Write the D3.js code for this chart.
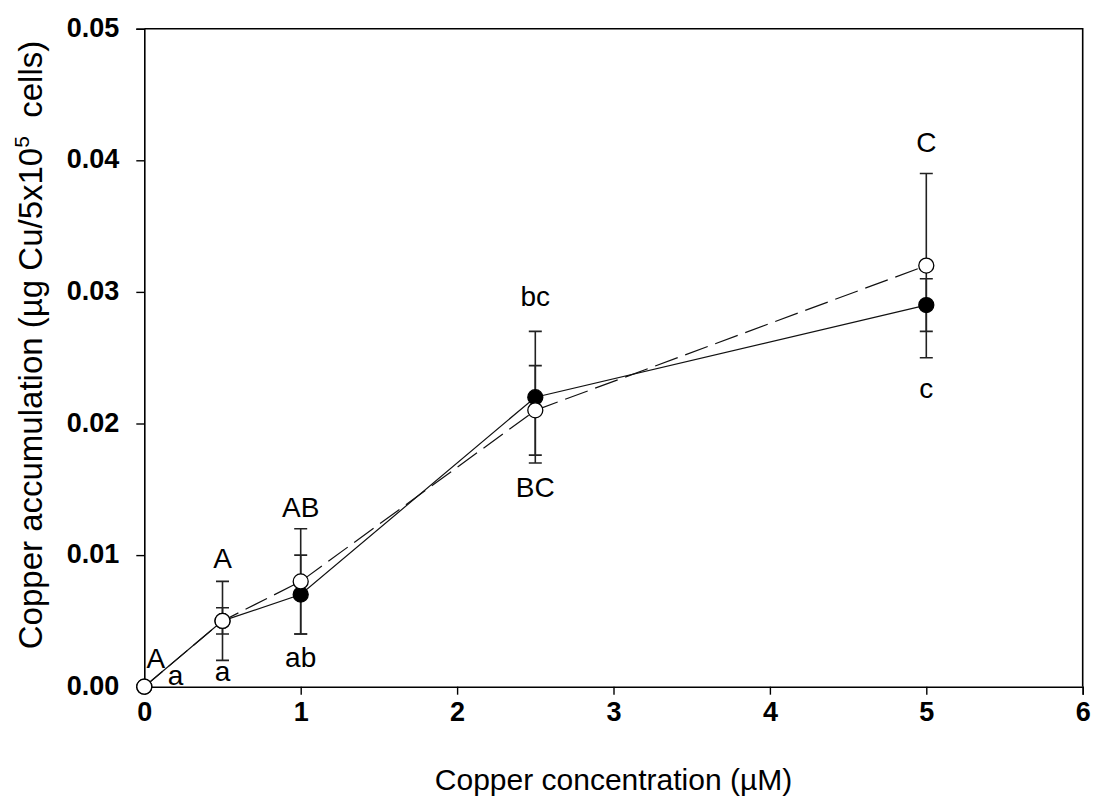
<!DOCTYPE html>
<html>
<head>
<meta charset="utf-8">
<script src="https://cdn.jsdelivr.net/npm/d3@7"></script>
<style>
  html, body { margin: 0; padding: 0; background: #fff; }
  svg { display: block; }
  text { font-family: Arial, "Liberation Sans", sans-serif; fill: #000; }
</style>
</head>
<body>
<svg id="chart" width="1100" height="807"></svg>
<script>
// Copper concentration in the medium (µM)
const concentrations = [0, 0.5, 1, 2.5, 5];

// Copper accumulation (µg Cu / 5x10^5 cells), two treatments
const filledMeans = [0, 0.005, 0.007, 0.022, 0.029];
const filledErrors = [0, 0.001, 0.003, 0.005, 0.002];
const openMeans = [0, 0.005, 0.008, 0.021, 0.032];
const openErrors = [0, 0.003, 0.004, 0.0034, 0.007];

// Significance letters, anchored in data space (concentration, accumulation)
const letterText = ["A", "a", "A", "a", "AB", "ab", "bc", "BC", "C", "c"];
const letterX = [0.074, 0.2, 0.5, 0.5, 1, 1, 2.5, 2.5, 5, 5];
const letterY = [0.0014, 0.0001, 0.0090, 0.0004, 0.0129, 0.0015, 0.0289, 0.0144, 0.0406, 0.0219];

const xTicks = [0, 1, 2, 3, 4, 5, 6];
const yTicks = [0, 0.01, 0.02, 0.03, 0.04, 0.05];

const svg = d3.select("#chart");
const margin = { left: 144.3, right: 1100 - 1082.7, top: 28.7, bottom: 807 - 686.7 };
const W = 1100, H = 807;

const x = d3.scaleLinear().domain([0, 6]).range([margin.left, W - margin.right]);
const y = d3.scaleLinear().domain([0, 0.05]).range([H - margin.bottom, margin.top]);

// frame (top and right borders)
svg.append("path")
  .attr("d", `M${x(0)},${y(0.05)}H${x(6)}V${y(0)}`)
  .attr("fill", "none").attr("stroke", "#000").attr("stroke-width", 1.6);

// axes
const xAxis = d3.axisBottom(x).tickValues(xTicks).tickFormat(d3.format("d")).tickSize(8).tickPadding(7);
const yAxis = d3.axisLeft(y).tickValues(yTicks).tickFormat(d3.format(".2f")).tickSize(8).tickPadding(17);

const gx = svg.append("g").attr("transform", `translate(0,${y(0)})`).call(xAxis);
const gy = svg.append("g").attr("transform", `translate(${x(0)},0)`).call(yAxis);
[gx, gy].forEach(g => {
  g.select(".domain").attr("stroke", "#000").attr("stroke-width", 1.6);
  g.selectAll(".tick line").attr("stroke", "#000").attr("stroke-width", 1.4);
  g.selectAll(".tick text")
    .attr("font-family", "Arial, 'Liberation Sans', sans-serif")
    .attr("font-size", 27).attr("font-weight", "bold").attr("fill", "#000");
});
gx.selectAll(".tick text").attr("dy", "0.71em");
gy.selectAll(".tick text").attr("dy", "0.28em");

// axis titles
svg.append("text")
  .attr("x", (x(0) + x(6)) / 2).attr("y", 790)
  .attr("text-anchor", "middle").attr("font-size", 30)
  .text("Copper concentration (\u00b5M)");

const yt = svg.append("text")
  .attr("transform", `translate(42,345) rotate(-90)`)
  .attr("text-anchor", "middle").attr("font-size", 33);
yt.append("tspan").text("Copper accumulation (\u00b5g Cu/5x10");
yt.append("tspan").attr("font-size", 21).attr("dy", -13).text("5");
yt.append("tspan").attr("dy", 13).text("\u00a0 cells)");

// build series records
const series = [
  { means: filledMeans, errors: filledErrors, fill: "#000", dash: null },
  { means: openMeans, errors: openErrors, fill: "#fff", dash: "24,8" }
].map(s => ({
  ...s,
  pts: concentrations.map((c, i) => ({ c, m: s.means[i], e: s.errors[i] }))
}));

// connecting lines
const line = d3.line().x(d => x(d.c)).y(d => y(d.m));
series.forEach(s => {
  svg.append("path").datum(s.pts)
    .attr("d", line)
    .attr("fill", "none").attr("stroke", "#111").attr("stroke-width", 1.2)
    .attr("stroke-dasharray", s.dash);
});

// error bars
const cap = 6.5;
series.forEach(s => {
  const g = svg.append("g").attr("stroke", "#222").attr("stroke-width", 1.6).attr("fill", "none");
  s.pts.filter(d => d.e > 0).forEach(d => {
    const xc = x(d.c), y1 = y(d.m + d.e), y0 = y(d.m - d.e);
    g.append("path").attr("d",
      `M${xc},${y1}V${y0}M${xc - cap},${y1}H${xc + cap}M${xc - cap},${y0}H${xc + cap}`);
  });
});

// markers: filled series underneath, open series on top
series.forEach(s => {
  svg.append("g").selectAll("circle").data(s.pts).join("circle")
    .attr("cx", d => x(d.c)).attr("cy", d => y(d.m))
    .attr("r", 7.5)
    .attr("fill", s.fill).attr("stroke", "#000").attr("stroke-width", 1.3);
});

// significance letters
svg.append("g").selectAll("text").data(letterText).join("text")
  .attr("x", (d, i) => x(letterX[i])).attr("y", (d, i) => y(letterY[i]))
  .attr("text-anchor", "middle").attr("font-size", 28)
  .text(d => d);
</script>
</body>
</html>
